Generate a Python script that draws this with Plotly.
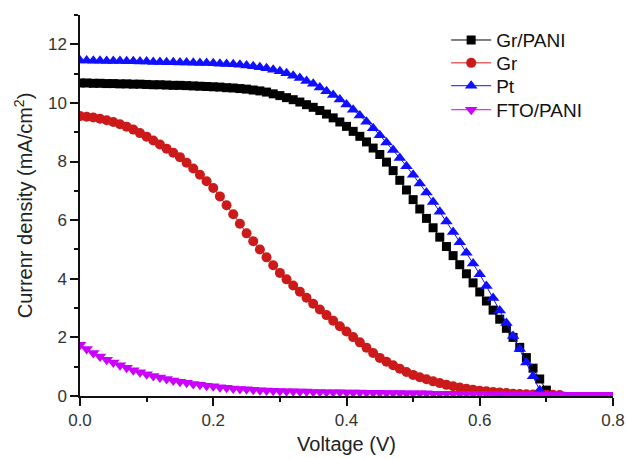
import plotly.graph_objects as go

# Voltage grid (V)
v_grpani = [round(i * 0.01, 2) for i in range(71)]
v_pt = [round(i * 0.01, 2) for i in range(70)]
v_gr = [round(i * 0.01, 2) for i in range(73)]
v_fto = [round(i * 0.01, 2) for i in range(81)]

j_grpani = [10.68, 10.68, 10.67, 10.67, 10.66, 10.66, 10.65, 10.65, 10.64, 10.64,
            10.63, 10.62, 10.62, 10.61, 10.60, 10.60, 10.59, 10.58, 10.57, 10.56,
            10.55, 10.54, 10.52, 10.51, 10.49, 10.47, 10.44, 10.41, 10.37, 10.31,
            10.25, 10.18, 10.11, 10.03, 9.94, 9.85, 9.74, 9.62, 9.49, 9.35,
            9.20, 9.03, 8.86, 8.67, 8.46, 8.24, 7.98, 7.69, 7.36, 7.03,
            6.70, 6.38, 6.06, 5.74, 5.42, 5.10, 4.79, 4.48, 4.17, 3.86,
            3.55, 3.24, 2.93, 2.62, 2.31, 2.00, 1.66, 1.31, 0.95, 0.58,
            0.20]

j_gr = [9.55, 9.53, 9.50, 9.46, 9.41, 9.35, 9.27, 9.19, 9.09, 8.97,
        8.85, 8.72, 8.58, 8.44, 8.30, 8.15, 7.96, 7.76, 7.55, 7.33,
        7.10, 6.81, 6.51, 6.20, 5.88, 5.55, 5.28, 5.00, 4.73, 4.46,
        4.20, 3.98, 3.77, 3.56, 3.35, 3.15, 2.95, 2.76, 2.57, 2.38,
        2.20, 2.01, 1.83, 1.65, 1.47, 1.30, 1.17, 1.05, 0.93, 0.82,
        0.72, 0.64, 0.57, 0.50, 0.44, 0.38, 0.33, 0.29, 0.25, 0.21,
        0.18, 0.16, 0.14, 0.12, 0.10, 0.08, 0.07, 0.06, 0.05, 0.05,
        0.04, 0.04, 0.03]

j_pt = [11.45, 11.45, 11.44, 11.44, 11.43, 11.43, 11.43, 11.42, 11.42, 11.41,
        11.41, 11.40, 11.40, 11.39, 11.39, 11.38, 11.38, 11.37, 11.36, 11.36,
        11.35, 11.34, 11.33, 11.32, 11.30, 11.28, 11.25, 11.22, 11.18, 11.13,
        11.08, 11.01, 10.93, 10.85, 10.75, 10.65, 10.53, 10.40, 10.27, 10.12,
        9.95, 9.77, 9.57, 9.36, 9.14, 8.90, 8.65, 8.39, 8.12, 7.84,
        7.55, 7.25, 6.94, 6.62, 6.29, 5.95, 5.60, 5.25, 4.89, 4.52,
        4.15, 3.75, 3.34, 2.92, 2.49, 2.05, 1.60, 1.14, 0.67, 0.20]

j_fto = [1.75, 1.60, 1.47, 1.35, 1.24, 1.14, 1.05, 0.96, 0.88, 0.81,
         0.74, 0.68, 0.63, 0.58, 0.53, 0.49, 0.45, 0.41, 0.38, 0.35,
         0.33, 0.30, 0.28, 0.26, 0.24, 0.23, 0.21, 0.20, 0.19, 0.18,
         0.17, 0.16, 0.16, 0.15, 0.15, 0.14, 0.14, 0.13, 0.13, 0.13,
         0.12, 0.12, 0.12, 0.11, 0.11, 0.11, 0.10, 0.10, 0.10, 0.09,
         0.09, 0.09, 0.09, 0.08, 0.08, 0.08, 0.08, 0.07, 0.07, 0.07,
         0.07, 0.07, 0.06, 0.06, 0.06, 0.06, 0.06, 0.05, 0.05, 0.05,
         0.05, 0.05, 0.05, 0.04, 0.04, 0.04, 0.04, 0.04, 0.04, 0.04,
         0.04]

series_names = ["Gr/PANI", "Gr", "Pt", "FTO/PANI"]
x_ticks = [0.0, 0.2, 0.4, 0.6, 0.8]
x_labels = ["0.0", "0.2", "0.4", "0.6", "0.8"]
y_ticks = [0, 2, 4, 6, 8, 10, 12]

fig = go.Figure()

styles = [
    ("#000000", "square", 9),
    ("#CC1A1A", "circle", 10),
    ("#1010FF", "triangle-up", 11),
    ("#CC00FF", "triangle-down", 11),
]
data = [(v_grpani, j_grpani), (v_gr, j_gr), (v_pt, j_pt), (v_fto, j_fto)]
legend_ids = ["legend", "legend2", "legend3", "legend4"]
for name, (xs, ys), (col, sym, sz), lg in zip(series_names, data, styles, legend_ids):
    fig.add_trace(go.Scatter(
        x=xs, y=ys, name=name, mode="lines+markers",
        line=dict(color=col, width=1),
        marker=dict(symbol=sym, size=sz, color=col, line=dict(width=0)),
        legend=lg,
    ))

font = "Liberation Sans, Arial, sans-serif"
legend_y = [0.934, 0.874, 0.814, 0.751]
leg_common = dict(x=0.687, xanchor="left", yanchor="middle",
                  bgcolor="rgba(0,0,0,0)", font=dict(size=19, color="#111111"),
                  itemwidth=40)
layout_legends = {}
for lg, yy in zip(legend_ids, legend_y):
    layout_legends[lg] = dict(y=yy, **leg_common)

axis_color = "#111111"
fig.update_layout(
    width=627, height=459,
    margin=dict(l=80, r=14, t=15, b=63),
    paper_bgcolor="white", plot_bgcolor="white",
    font=dict(family=font, size=17, color="#333333"),
    showlegend=True,
    xaxis=dict(
        range=[0, 0.8], tickvals=x_ticks, ticktext=x_labels, automargin=False,
        showgrid=False, zeroline=False, showline=True, linecolor=axis_color,
        linewidth=1.5, ticks="outside", ticklen=8, tickwidth=1.5, tickcolor=axis_color,
        minor=dict(ticks="outside", ticklen=4, dtick=0.1, tickcolor=axis_color, tickwidth=1.5),
        title=dict(text="Voltage (V)", font=dict(size=20, color="#222222"), standoff=8),
        tickfont=dict(size=17, color="#333333"),
    ),
    yaxis=dict(
        range=[0, 13], tickvals=y_ticks, automargin=False,
        showgrid=False, zeroline=False, showline=True, linecolor=axis_color,
        linewidth=1.5, ticks="outside", ticklen=8, tickwidth=1.5, tickcolor=axis_color,
        minor=dict(ticks="outside", ticklen=4, dtick=1, tickcolor=axis_color, tickwidth=1.5),
        title=dict(text="Currenr density (mA/cm<sup>2</sup>)", font=dict(size=20, color="#222222"), standoff=10),
        tickfont=dict(size=17, color="#333333"),
    ),
    **layout_legends,
)

fig.write_html("out.html", config={"displayModeBar": False},
               post_script="document.body.style.margin='0';document.body.style.padding='0';")
